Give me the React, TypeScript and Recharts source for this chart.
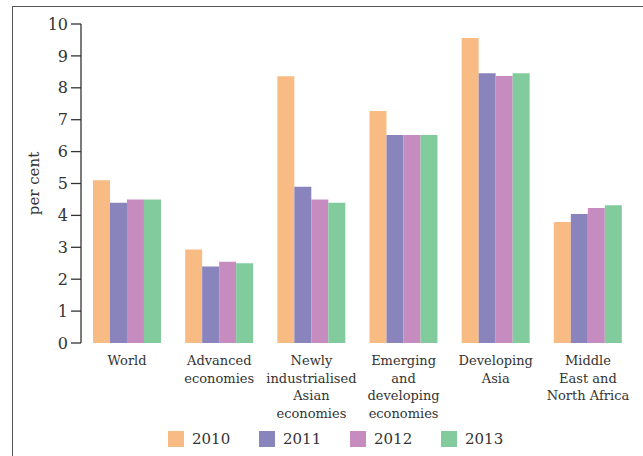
import React from 'react';
import { BarChart, Bar, XAxis, YAxis, Legend, Label } from 'recharts';

const categories = [
  'World',
  'Advanced\neconomies',
  'Newly\nindustrialised\nAsian\neconomies',
  'Emerging\nand\ndeveloping\neconomies',
  'Developing\nAsia',
  'Middle\nEast and\nNorth Africa',
];
const years = ['2010', '2011', '2012', '2013'];
const v2010 = [5.1, 2.93, 8.36, 7.27, 9.56, 3.79];
const v2011 = [4.4, 2.4, 4.9, 6.52, 8.46, 4.04];
const v2012 = [4.5, 2.55, 4.5, 6.52, 8.37, 4.23];
const v2013 = [4.5, 2.5, 4.4, 6.52, 8.46, 4.32];
const yTicks = [0, 1, 2, 3, 4, 5, 6, 7, 8, 9, 10];
const boundaryTicks = [0, 1, 2, 3, 4, 5, 6];
const yLabel = 'per cent';

const colors = ['#F9BB84', '#8A84BD', '#C78CBF', '#82CB9C'];
const FONT = '"DejaVu Serif", serif';
const TEXT = '#333';

const data = categories.map((c, i) => ({
  cat: c,
  y2010: v2010[i],
  y2011: v2011[i],
  y2012: v2012[i],
  y2013: v2013[i],
}));

const CatTick = (props: any) => {
  const { x, y, payload } = props;
  const lines = String(payload.value).split('\n');
  return (
    <text x={x} y={y} textAnchor="middle" fontFamily={FONT} fontSize={13} fill={TEXT}>
      {lines.map((l, i) => (
        <tspan key={i} x={x} dy={i === 0 ? 22 : 17.5}>
          {l}
        </tspan>
      ))}
    </text>
  );
};

const YLabel = (props: any) => {
  const vb = props.viewBox || {};
  const cx = 34;
  const cy = vb.y + vb.height / 2;
  return (
    <text
      x={cx}
      y={cy}
      transform={`rotate(-90, ${cx}, ${cy})`}
      textAnchor="middle"
      dominantBaseline="central"
      fontFamily={FONT}
      fontSize={15}
      fill={TEXT}
    >
      {yLabel}
    </text>
  );
};

const renderLegend = () => (
  <div style={{ display: 'flex', fontFamily: FONT, fontSize: 15, color: TEXT }}>
    {years.map((yr, i) => (
      <div key={yr} style={{ display: 'flex', alignItems: 'center', width: 91, height: 16 }}>
        <span
          style={{ width: 16, height: 16, background: colors[i], display: 'inline-block', marginRight: 8 }}
        />
        <span style={{ lineHeight: '16px' }}>{yr}</span>
      </div>
    ))}
  </div>
);

export default function App() {
  return (
    <div style={{ position: 'fixed', left: 0, top: 0, width: 643, height: 456, background: '#fff', overflow: 'hidden' }}>
      <div
        style={{
          position: 'absolute',
          left: 12,
          top: 6,
          width: 700,
          height: 500,
          borderLeft: '1.5px solid #555',
          borderTop: '1.5px solid #555',
        }}
      />
      <div style={{ position: 'absolute', left: 0, top: 0 }}>
        <BarChart
          width={643}
          height={456}
          data={data}
          margin={{ top: 24, right: 9, bottom: 0, left: 0 }}
          barCategoryGap="13%"
          barGap={0}
        >
          <XAxis
            xAxisId="grid"
            type="number"
            domain={[0, 6]}
            ticks={boundaryTicks}
            height={0}
            tickSize={9}
            tickFormatter={() => ''}
            stroke="#333"
            axisLine={{ stroke: '#333', strokeWidth: 1.3 }}
            tickLine={{ stroke: '#333', strokeWidth: 1.3 }}
          />
          <XAxis
            xAxisId="cat"
            dataKey="cat"
            type="category"
            height={113}
            axisLine={false}
            tickLine={false}
            tickSize={0}
            tickMargin={0}
            interval={0}
            tick={<CatTick />}
          />
          <YAxis
            type="number"
            domain={[0, 10]}
            ticks={yTicks}
            width={81}
            tickSize={10}
            tickMargin={3}
            interval={0}
            axisLine={{ stroke: '#333', strokeWidth: 1.3 }}
            tickLine={{ stroke: '#333', strokeWidth: 1.3 }}
            tick={{ fontFamily: FONT, fontSize: 16, fill: TEXT }}
          >
            <Label content={<YLabel />} />
          </YAxis>
          <Legend
            layout="horizontal"
            verticalAlign="middle"
            align="center"
            content={renderLegend}
            wrapperStyle={{ top: 431, left: 168, width: 400, height: 16 }}
          />
          <Bar xAxisId="cat" dataKey="y2010" name="2010" fill={colors[0]} isAnimationActive={false} />
          <Bar xAxisId="cat" dataKey="y2011" name="2011" fill={colors[1]} isAnimationActive={false} />
          <Bar xAxisId="cat" dataKey="y2012" name="2012" fill={colors[2]} isAnimationActive={false} />
          <Bar xAxisId="cat" dataKey="y2013" name="2013" fill={colors[3]} isAnimationActive={false} />
        </BarChart>
      </div>
    </div>
  );
}
